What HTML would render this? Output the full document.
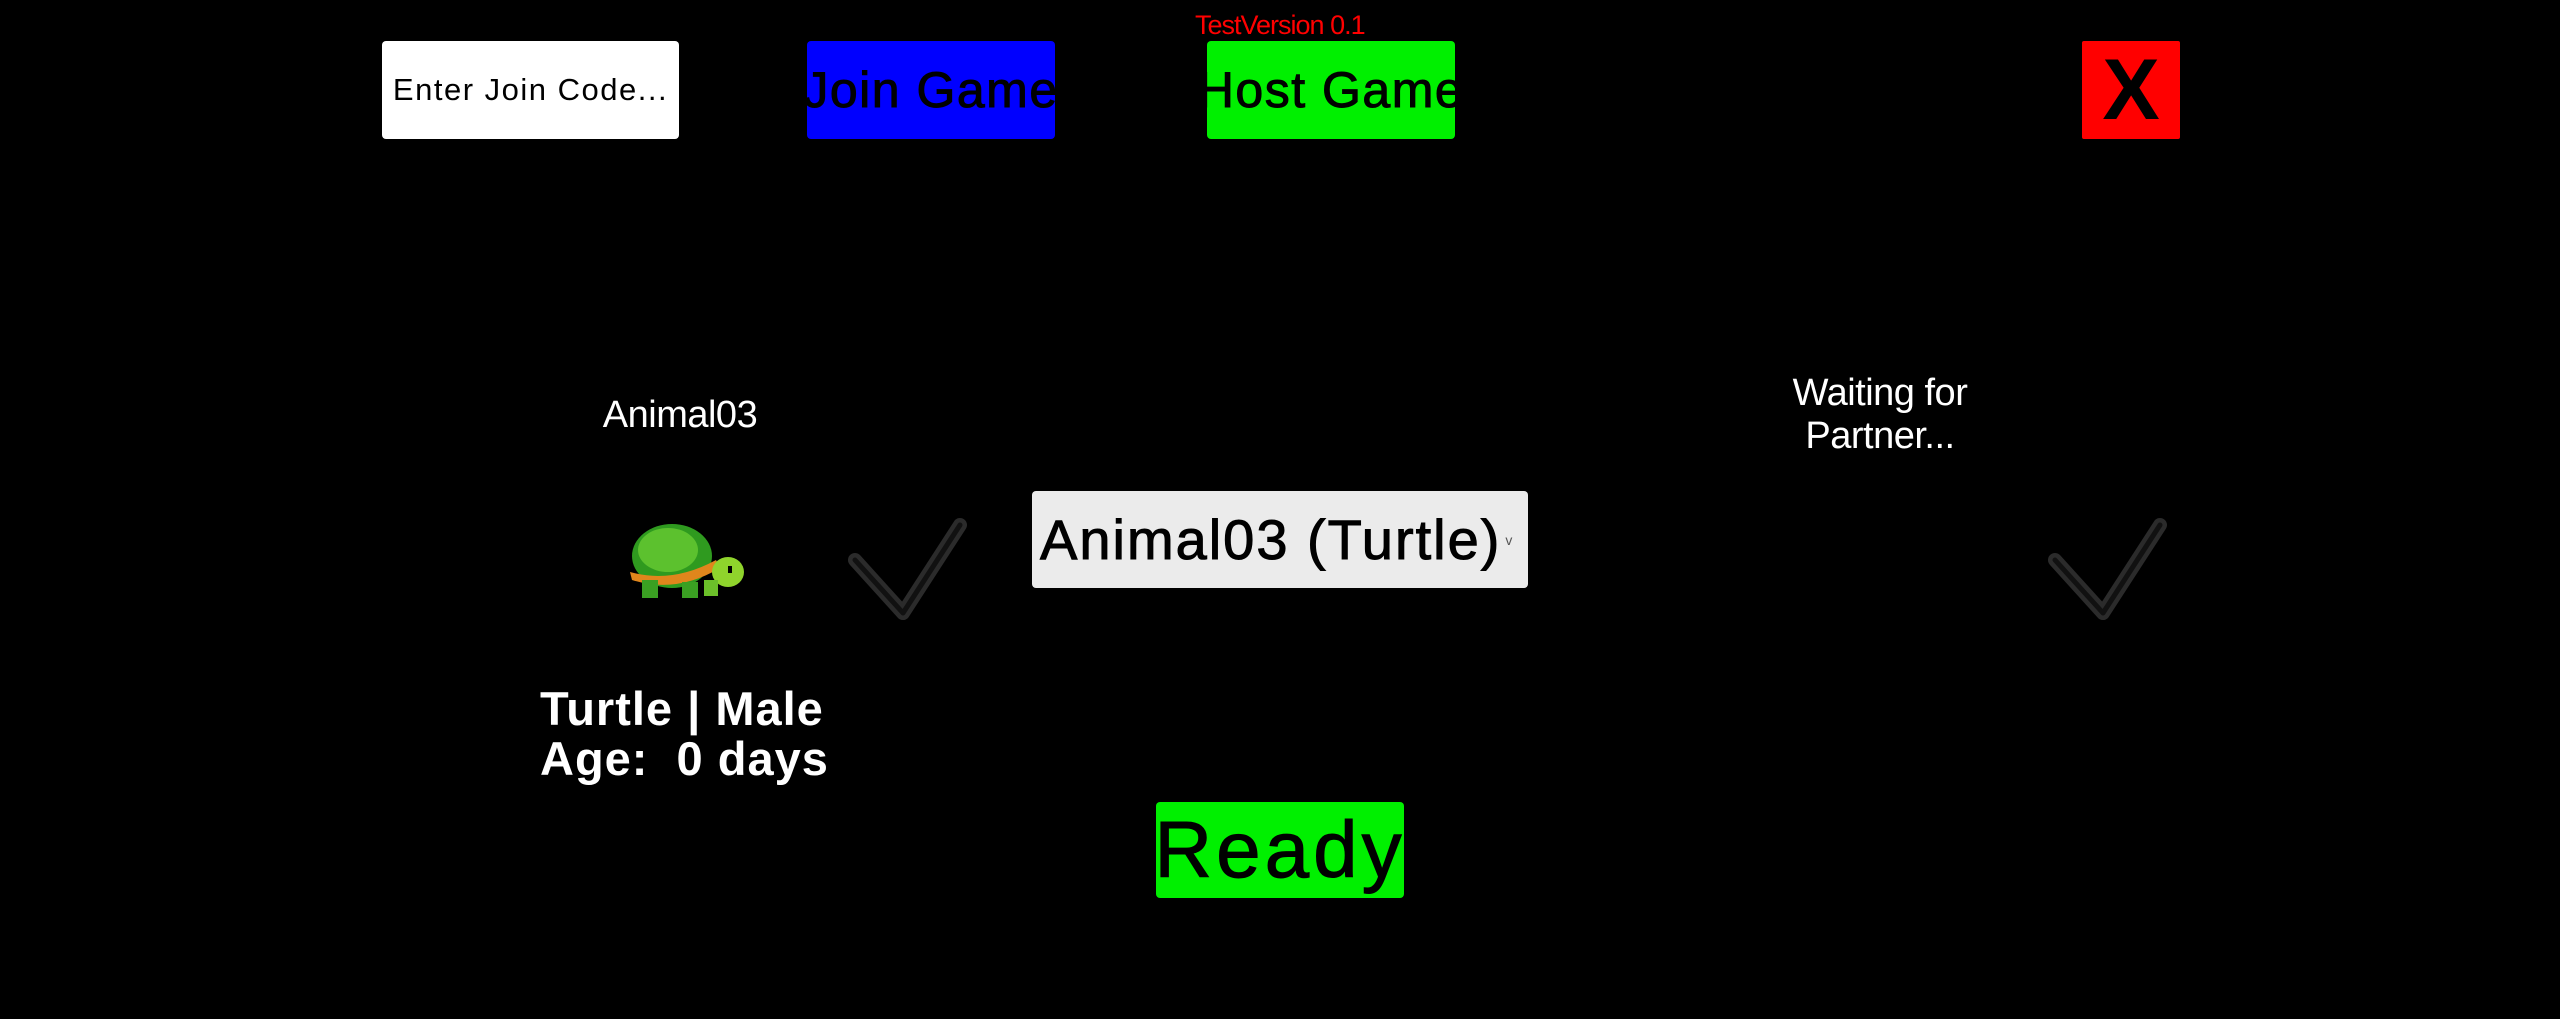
<!DOCTYPE html>
<html><head><meta charset="utf-8"><style>
html,body{margin:0;padding:0;background:#000;width:2560px;height:1019px;overflow:hidden;position:relative;font-family:"Liberation Sans",sans-serif}
.a{position:absolute;box-sizing:border-box;display:flex;align-items:center;justify-content:center;white-space:nowrap;overflow:visible}
.btn{border-radius:4px;color:#000}
.s{-webkit-text-stroke:1px #000}
</style></head><body>
<div class="a btn" style="left:382px;top:41px;width:297px;height:98px;background:#fff;font-size:31px;letter-spacing:1.5px">Enter Join Code...</div>
<div class="a btn s" style="left:807px;top:41px;width:248px;height:98px;background:#0000ff;font-size:50px;letter-spacing:1.5px">Join Game</div>
<div class="a" style="left:1195px;top:10px;color:#ff0000;font-size:27px;letter-spacing:-1px">TestVersion 0.1</div>
<div class="a btn s" style="left:1207px;top:41px;width:248px;height:98px;background:#00f000;font-size:50px;letter-spacing:1.5px">Host Game</div>
<div class="a btn" style="left:2082px;top:41px;width:98px;height:98px;background:#ff0000;font-size:86px;font-weight:bold;border-radius:2px">X</div>

<div class="a" style="left:530px;top:390px;width:300px;height:50px;color:#fff;font-size:38px;letter-spacing:-0.5px">Animal03</div>

<svg class="a" style="left:620px;top:520px" width="125" height="82" viewBox="0 0 125 82">
<ellipse cx="52" cy="36" rx="40" ry="32" fill="#2f9a1f"/>
<ellipse cx="48" cy="30" rx="30" ry="22" fill="#5cc12e"/>
<path d="M10 52 Q52 64 96 40 L100 48 Q56 74 12 60Z" fill="#e0861c"/>
<ellipse cx="108" cy="52" rx="16" ry="15" fill="#8fd42c"/>
<rect x="108" y="46" width="4" height="7" fill="#000"/>
<rect x="22" y="60" width="16" height="18" fill="#3aa022"/>
<rect x="62" y="62" width="16" height="16" fill="#3aa022"/>
<rect x="84" y="60" width="14" height="16" fill="#6cc02a"/>
</svg>

<svg class="a" style="left:845px;top:515px" width="125" height="105" viewBox="0 0 125 105">
<polyline points="10,45 58,98 115,10" fill="none" stroke="#2b2b2b" stroke-width="14" stroke-linejoin="round" stroke-linecap="round"/>
<polyline points="10,45 58,98 115,10" fill="none" stroke="#111" stroke-width="5" stroke-linejoin="round" stroke-linecap="round"/>
</svg>
<svg class="a" style="left:2045px;top:515px" width="125" height="105" viewBox="0 0 125 105">
<polyline points="10,45 58,98 115,10" fill="none" stroke="#2b2b2b" stroke-width="14" stroke-linejoin="round" stroke-linecap="round"/>
<polyline points="10,45 58,98 115,10" fill="none" stroke="#111" stroke-width="5" stroke-linejoin="round" stroke-linecap="round"/>
</svg>

<div class="a btn s" style="left:1032px;top:491px;width:496px;height:97px;background:#ebebeb;font-size:56px;letter-spacing:2px;justify-content:flex-start;padding-left:8px">Animal03 (Turtle)<span style="font-size:14px;color:#555;margin-left:4px;letter-spacing:0;-webkit-text-stroke:0">v</span></div>

<div style="position:absolute;left:1730px;top:372px;width:300px;text-align:center;color:#fff;font-size:38px;line-height:43px;letter-spacing:-0.5px">Waiting for<br>Partner...</div>

<div style="position:absolute;left:540px;top:684px;color:#fff;font-size:47px;font-weight:bold;line-height:50px;letter-spacing:1px;white-space:pre">Turtle | Male
Age:  0 days</div>

<div class="a btn s" style="left:1156px;top:802px;width:248px;height:96px;background:#00f000;font-size:80px;letter-spacing:4px">Ready</div>
</body></html>
